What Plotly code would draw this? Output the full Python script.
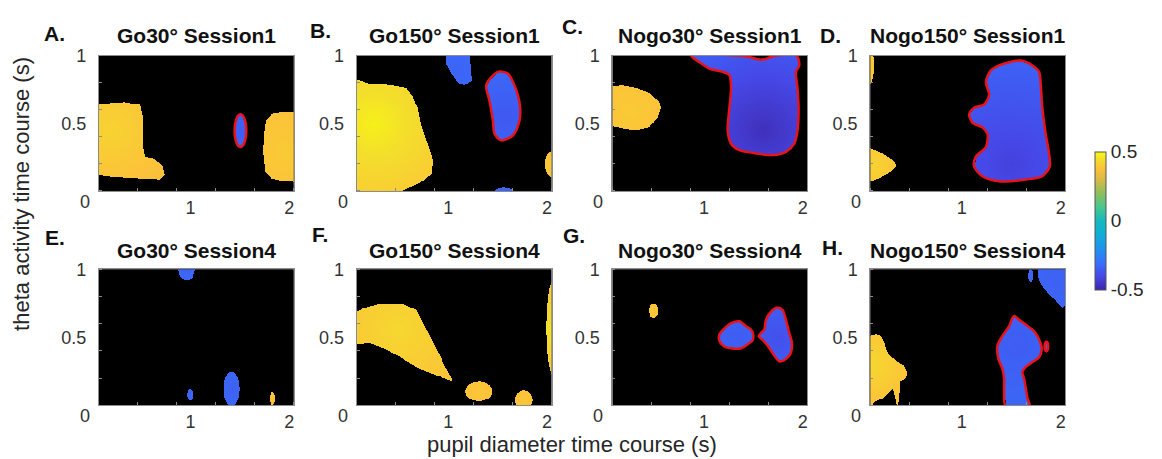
import numpy as np
import plotly.graph_objects as go

# ---------------- axes / labels ----------------
X_RANGE = [0.075, 2.045]
Y_RANGE = [0.0, 1.0]
X_TICKS = [1, 2]
Y_TICKS = [0.5, 1]
CBAR_TICKS = [-0.5, 0, 0.5]
PANEL_LETTERS = ["A.", "B.", "C.", "D.", "E.", "F.", "G.", "H."]
PANEL_TITLES = ["Go30° Session1", "Go150° Session1", "Nogo30° Session1", "Nogo150° Session1",
                "Go30° Session4", "Go150° Session4", "Nogo30° Session4", "Nogo150° Session4"]
X_LABEL = "pupil diameter time course (s)"
Y_LABEL = "theta activity time course (s)"

# ---------------- blob data (x: s, y: s) ----------------
# Panel A
A_YEL1_X = [0.05, 0.186, 0.338, 0.489, 0.519, 0.519, 0.540, 0.641, 0.722, 0.742, 0.691, 0.489, 0.186, 0.05]
A_YEL1_Y = [0.638, 0.652, 0.659, 0.638, 0.543, 0.326, 0.254, 0.239, 0.181, 0.123, 0.087, 0.094, 0.109, 0.123]
A_BLUE1_ELL = [1.506, 0.447, 0.059, 0.121]
A_YEL2_X = [1.822, 1.762, 1.742, 1.731, 1.752, 1.822, 1.954, 2.07, 2.07, 1.954]
A_YEL2_Y = [0.572, 0.529, 0.435, 0.290, 0.145, 0.094, 0.072, 0.065, 0.580, 0.587]
# Panel B
B_YEL1_X = [0.05, 0.206, 0.408, 0.580, 0.641, 0.691, 0.732, 0.792, 0.843, 0.833, 0.711, 0.580, 0.479, 0.05]
B_YEL1_Y = [0.833, 0.797, 0.783, 0.761, 0.703, 0.616, 0.471, 0.348, 0.232, 0.130, 0.058, 0.014, -0.02, -0.02]
B_BLUE1_X = [0.981, 1.216, 1.226, 1.237, 1.166, 1.115, 1.035, 0.984]
B_BLUE1_Y = [1.02, 1.02, 0.906, 0.819, 0.783, 0.790, 0.870, 0.942]
B_BLUE2_X = [1.502, 1.603, 1.654, 1.704, 1.728, 1.721, 1.654, 1.536, 1.469, 1.452, 1.418, 1.385]
B_BLUE2_Y = [0.882, 0.870, 0.809, 0.712, 0.616, 0.520, 0.411, 0.375, 0.422, 0.522, 0.667, 0.785]
B_BLUE3_ELL = [1.56, -0.005, 0.09, 0.03]
B_YEL2_ELL = [2.05, 0.2, 0.075, 0.095]
# Panel C
C_YEL1_X = [0.05, 0.179, 0.314, 0.449, 0.550, 0.567, 0.533, 0.449, 0.314, 0.196, 0.05]
C_YEL1_Y = [0.773, 0.780, 0.761, 0.725, 0.664, 0.616, 0.543, 0.471, 0.447, 0.459, 0.483]
C_BLUE1_X = [0.870, 0.954, 1.055, 1.189, 1.257, 1.274, 1.257, 1.240, 1.274, 1.358, 1.492, 1.694, 1.829,
             1.913, 1.946, 1.957, 1.946, 1.930, 1.964, 1.936, 1.694, 1.627, 1.560, 1.492, 1.425]
C_BLUE1_Y = [1.002, 0.954, 0.906, 0.882, 0.857, 0.761, 0.616, 0.447, 0.350, 0.302, 0.283, 0.266, 0.290,
             0.350, 0.447, 0.616, 0.761, 0.882, 0.930, 1.002, 0.998, 0.978, 0.973, 0.986, 0.998]
# Panel D
D_YEL1_ELL = [0.05, 0.93, 0.065, 0.15]
D_YEL2_X = [0.05, 0.082, 0.199, 0.300, 0.335, 0.284, 0.166, 0.082, 0.05]
D_YEL2_Y = [0.32, 0.314, 0.278, 0.230, 0.186, 0.145, 0.097, 0.072, 0.07]
D_BLUE1_X = [1.294, 1.378, 1.479, 1.597, 1.714, 1.782, 1.799, 1.815, 1.849, 1.883, 1.890, 1.815, 1.648,
             1.378, 1.209, 1.125, 1.143, 1.244, 1.260, 1.209, 1.108, 1.075, 1.125, 1.226, 1.277, 1.244]
D_BLUE1_Y = [0.893, 0.930, 0.954, 0.966, 0.930, 0.882, 0.785, 0.616, 0.422, 0.278, 0.181, 0.109, 0.085,
             0.072, 0.109, 0.181, 0.254, 0.326, 0.422, 0.471, 0.507, 0.567, 0.616, 0.640, 0.712, 0.809]
# Panel E
E_BLUE1_ELL = [0.961, 1.0, 0.085, 0.08]
E_BLUE2_ELL = [0.994, 0.077, 0.03, 0.042]
E_BLUE3_ELL = [1.415, 0.12, 0.084, 0.13]
E_YEL1_ELL = [1.829, 0.05, 0.03, 0.05]
# Panel F
F_YEL1_X = [0.05, 0.139, 0.307, 0.543, 0.678, 0.779, 0.880, 0.964, 1.031, 1.048, 0.997, 0.880, 0.711,
            0.543, 0.375, 0.206, 0.105, 0.05]
F_YEL1_Y = [0.676, 0.712, 0.748, 0.748, 0.700, 0.556, 0.412, 0.293, 0.209, 0.173, 0.185, 0.221, 0.268,
            0.340, 0.412, 0.460, 0.448, 0.460]
F_YEL2_ELL = [1.310, 0.101, 0.138, 0.072]
F_YEL3_ELL = [1.762, 0.04, 0.092, 0.07]
F_YEL4_ELL = [2.06, 0.568, 0.07, 0.35]
# Panel G
G_YEL1_ELL = [0.492, 0.696, 0.05, 0.054]
G_BLUE1_X = [1.156, 1.223, 1.274, 1.358, 1.425, 1.476, 1.499, 1.492, 1.442, 1.375, 1.290, 1.206, 1.156]
G_BLUE1_Y = [0.520, 0.576, 0.604, 0.617, 0.581, 0.556, 0.513, 0.477, 0.448, 0.419, 0.417, 0.432, 0.473]
G_BLUE2_X = [1.627, 1.694, 1.744, 1.795, 1.829, 1.862, 1.890, 1.880, 1.829, 1.762, 1.711, 1.644, 1.593,
             1.553, 1.577, 1.610]
G_BLUE2_Y = [0.628, 0.700, 0.719, 0.700, 0.628, 0.532, 0.460, 0.388, 0.340, 0.322, 0.365, 0.437, 0.480,
             0.509, 0.532, 0.556]
# Panel H
H_YEL1_X = [0.05, 0.082, 0.133, 0.183, 0.216, 0.234, 0.267, 0.351, 0.418, 0.452, 0.436, 0.385, 0.368,
            0.361, 0.341, 0.317, 0.300, 0.267, 0.199, 0.133, 0.082, 0.05]
H_YEL1_Y = [0.509, 0.509, 0.520, 0.509, 0.460, 0.412, 0.365, 0.317, 0.293, 0.245, 0.196, 0.173, 0.124,
            0.029, -0.01, 0.077, 0.124, 0.101, 0.053, 0.029, -0.01, -0.01]
H_BLUE1_X = [1.765, 1.775, 1.815, 1.883, 1.967, 2.017, 2.06, 2.06]
H_BLUE1_Y = [1.02, 0.928, 0.868, 0.808, 0.760, 0.719, 0.748, 1.02]
H_BLUE2_ELL = [1.698, 0.952, 0.025, 0.045]
H_BLUE3_X = [1.529, 1.580, 1.648, 1.731, 1.782, 1.809, 1.782, 1.714, 1.648, 1.613, 1.630, 1.648, 1.664,
             1.688, 1.446, 1.428, 1.428, 1.411, 1.371, 1.361, 1.411, 1.479, 1.512]
H_BLUE3_Y = [0.657, 0.628, 0.592, 0.545, 0.484, 0.412, 0.353, 0.317, 0.281, 0.245, 0.196, 0.124, 0.053,
             -0.01, -0.01, 0.101, 0.196, 0.268, 0.340, 0.437, 0.509, 0.581, 0.640]
H_RED1_ELL = [1.856, 0.432, 0.018, 0.035]

# blob records: shape, value at peak, value at edge, peak location, fall-off radius, significant (red outline)
PANEL_BLOBS = [
    [dict(poly=(A_YEL1_X, A_YEL1_Y), vpk=0.42, ved=0.36, pk=(0.2, 0.45), r=0.8, sig=False),
     dict(ell=A_BLUE1_ELL, vpk=-0.35, ved=-0.33, pk=(1.506, 0.447), r=0.2, sig=True),
     dict(poly=(A_YEL2_X, A_YEL2_Y), vpk=0.40, ved=0.37, pk=(1.95, 0.3), r=0.6, sig=False)],
    [dict(poly=(B_YEL1_X, B_YEL1_Y), vpk=0.48, ved=0.38, pk=(0.25, 0.5), r=1.0, sig=False),
     dict(poly=(B_BLUE1_X, B_BLUE1_Y), vpk=-0.33, ved=-0.32, pk=(1.1, 0.9), r=0.3, sig=False),
     dict(poly=(B_BLUE2_X, B_BLUE2_Y), vpk=-0.36, ved=-0.32, pk=(1.58, 0.55), r=0.5, sig=True),
     dict(ell=B_BLUE3_ELL, vpk=-0.33, ved=-0.32, pk=(1.56, 0.0), r=0.2, sig=False),
     dict(ell=B_YEL2_ELL, vpk=0.40, ved=0.37, pk=(2.05, 0.2), r=0.2, sig=False)],
    [dict(poly=(C_YEL1_X, C_YEL1_Y), vpk=0.40, ved=0.37, pk=(0.25, 0.6), r=0.5, sig=False),
     dict(poly=(C_BLUE1_X, C_BLUE1_Y), vpk=-0.47, ved=-0.33, pk=(1.6, 0.45), r=1.1, sig=True)],
    [dict(ell=D_YEL1_ELL, vpk=0.40, ved=0.38, pk=(0.05, 0.93), r=0.3, sig=False),
     dict(poly=(D_YEL2_X, D_YEL2_Y), vpk=0.42, ved=0.38, pk=(0.1, 0.2), r=0.3, sig=False),
     dict(poly=(D_BLUE1_X, D_BLUE1_Y), vpk=-0.42, ved=-0.34, pk=(1.5, 0.2), r=1.0, sig=True)],
    [dict(ell=E_BLUE1_ELL, vpk=-0.33, ved=-0.32, pk=(0.961, 1.0), r=0.2, sig=False),
     dict(ell=E_BLUE2_ELL, vpk=-0.33, ved=-0.32, pk=(0.994, 0.077), r=0.2, sig=False),
     dict(ell=E_BLUE3_ELL, vpk=-0.34, ved=-0.32, pk=(1.415, 0.12), r=0.2, sig=False),
     dict(ell=E_YEL1_ELL, vpk=0.38, ved=0.37, pk=(1.829, 0.05), r=0.2, sig=False)],
    [dict(poly=(F_YEL1_X, F_YEL1_Y), vpk=0.43, ved=0.37, pk=(0.5, 0.55), r=0.9, sig=False),
     dict(ell=F_YEL2_ELL, vpk=0.39, ved=0.37, pk=(1.31, 0.1), r=0.2, sig=False),
     dict(ell=F_YEL3_ELL, vpk=0.39, ved=0.37, pk=(1.76, 0.04), r=0.2, sig=False),
     dict(ell=F_YEL4_ELL, vpk=0.46, ved=0.40, pk=(2.05, 0.55), r=0.4, sig=False)],
    [dict(ell=G_YEL1_ELL, vpk=0.39, ved=0.38, pk=(0.492, 0.696), r=0.2, sig=False),
     dict(poly=(G_BLUE1_X, G_BLUE1_Y), vpk=-0.35, ved=-0.33, pk=(1.33, 0.5), r=0.3, sig=True),
     dict(poly=(G_BLUE2_X, G_BLUE2_Y), vpk=-0.38, ved=-0.34, pk=(1.75, 0.5), r=0.4, sig=True)],
    [dict(poly=(H_YEL1_X, H_YEL1_Y), vpk=0.43, ved=0.37, pk=(0.08, 0.3), r=0.5, sig=False),
     dict(poly=(H_BLUE1_X, H_BLUE1_Y), vpk=-0.34, ved=-0.32, pk=(1.95, 0.9), r=0.4, sig=False),
     dict(ell=H_BLUE2_ELL, vpk=-0.33, ved=-0.32, pk=(1.698, 0.952), r=0.2, sig=False),
     dict(poly=(H_BLUE3_X, H_BLUE3_Y), vpk=-0.35, ved=-0.33, pk=(1.55, 0.45), r=0.5, sig=True),
     dict(ell=H_RED1_ELL, vpk=-0.33, ved=-0.33, pk=(1.856, 0.432), r=0.2, sig=True)],
]

# parula-like colormap
PARULA = [
    [0.00, "#3e26a8"], [0.10, "#4648e8"], [0.20, "#3871fc"], [0.30, "#2092ed"],
    [0.40, "#0eaed7"], [0.50, "#14b9be"], [0.60, "#48c68e"], [0.70, "#8cbf5c"],
    [0.80, "#d7ba44"], [0.88, "#fcc23a"], [0.95, "#f3e02a"], [1.00, "#f9fb0e"],
]

# ---------------- layout geometry (pixels) ----------------
W, H = 1162, 459
COL_LEFT = [99, 357, 613, 871]
PANEL_W = 195
ROW_TOP = [47, 265]
ROW_BOT = [185, 404]
LETTER_POS = [(55, 24), (321, 21), (573, 17), (831, 26), (55, 233), (320, 230), (574, 231), (833, 243)]
TITLE_Y = [26, 246]
FONT = "Liberation Sans, Arial, sans-serif"

NX, NY = 200, 142
xe = np.linspace(X_RANGE[0], X_RANGE[1], NX + 1)
ye = np.linspace(Y_RANGE[0], Y_RANGE[1], NY + 1)
xc = 0.5 * (xe[:-1] + xe[1:])
yc = 0.5 * (ye[:-1] + ye[1:])
GX, GY = np.meshgrid(xc, yc)


def in_poly(px, py, xs, ys):
    xs = np.asarray(xs, float)
    ys = np.asarray(ys, float)
    res = np.zeros(px.shape, bool)
    j = len(xs) - 1
    for i in range(len(xs)):
        xi, yi, xj, yj = xs[i], ys[i], xs[j], ys[j]
        den = (yj - yi) if (yj - yi) != 0 else 1e-12
        cond = ((yi > py) != (yj > py)) & (px < (xj - xi) * (py - yi) / den + xi)
        res ^= cond
        j = i
    return res


def ell_outline(e):
    t = np.linspace(0, 2 * np.pi, 72)
    return e[0] + e[2] * np.cos(t), e[1] + e[3] * np.sin(t)


fig = go.Figure()
annotations = []

for k in range(8):
    row, col = divmod(k, 4)
    xa = "x" if k == 0 else f"x{k+1}"
    ya = "y" if k == 0 else f"y{k+1}"
    Z = np.full(GX.shape, np.nan)
    outlines = []
    for b in PANEL_BLOBS[k]:
        if "poly" in b:
            xs, ys = b["poly"]
            m = in_poly(GX, GY, xs, ys)
            ox, oy = list(xs) + [xs[0]], list(ys) + [ys[0]]
        else:
            e = b["ell"]
            m = ((GX - e[0]) / e[2]) ** 2 + ((GY - e[1]) / e[3]) ** 2 <= 1
            ox, oy = ell_outline(e)
        d = np.sqrt(((GX - b["pk"][0]) * 0.99) ** 2 + ((GY - b["pk"][1]) * 1.38) ** 2)
        val = b["vpk"] + (b["ved"] - b["vpk"]) * np.clip(d / b["r"], 0, 1)
        Z = np.where(m, val, Z)
        if b["sig"]:
            outlines.append((ox, oy))
    zl = [[None if np.isnan(v) else round(float(v), 4) for v in rowv] for rowv in Z]
    fig.add_trace(go.Heatmap(
        x=xc, y=yc, z=zl, colorscale=PARULA, zmin=-0.5, zmax=0.5,
        xaxis=xa, yaxis=ya, hoverinfo="skip", showscale=(k == 0),
        colorbar=dict(
            x=1095.7 / W, xanchor="left", xpad=0, y=1 - 215.5 / H, yanchor="middle", ypad=0,
            len=141 / H, lenmode="fraction", thickness=11, outlinecolor="#555555", outlinewidth=1,
            tickvals=CBAR_TICKS, ticktext=["-0.5", "0", "0.5"], ticks="",
            tickfont=dict(size=19, color="#262626", family=FONT),
        ),
    ))
    for ox, oy in outlines:
        fig.add_trace(go.Scatter(
            x=list(ox), y=list(oy), mode="lines", xaxis=xa, yaxis=ya,
            line=dict(color="#e8131b", width=2.5, shape="spline", smoothing=0.8),
            hoverinfo="skip", showlegend=False,
        ))

    left = COL_LEFT[col]
    xdom = [left / W, (left + PANEL_W) / W]
    ydom = [1 - ROW_BOT[row] / H, 1 - ROW_TOP[row] / H]
    axcommon = dict(showline=True, linecolor="#8c8c8c", linewidth=1, mirror=True,
                    showgrid=False, zeroline=False, fixedrange=True,
                    tickfont=dict(size=18, color="#333333", family=FONT))
    xkey = "xaxis" if k == 0 else f"xaxis{k+1}"
    ykey = "yaxis" if k == 0 else f"yaxis{k+1}"
    fig.update_layout({
        xkey: dict(domain=xdom, anchor=ya, range=X_RANGE, tickmode="array", tickvals=X_TICKS,
                   ticktext=[str(v) for v in X_TICKS], ticks="", ticklabelstandoff=0,
                   minor=dict(ticks="inside", ticklen=3, tickcolor="#8c8c8c", tick0=X_RANGE[0],
                              dtick=(X_RANGE[1] - X_RANGE[0]) / 5, showgrid=False),
                   **axcommon),
        ykey: dict(domain=ydom, anchor=xa, range=Y_RANGE, tickmode="array", tickvals=Y_TICKS,
                   ticktext=["0.5", "1"], ticks="", ticklabelstandoff=8,
                   minor=dict(ticks="inside", ticklen=3, tickcolor="#8c8c8c", tick0=0, dtick=0.2,
                              showgrid=False),
                   **axcommon),
    })
    # the "0" label sitting at the lower-left corner of each panel
    annotations.append(dict(text="0", x=(left - 14) / W, y=1 - (ROW_BOT[row] + 11) / H,
                            xref="paper", yref="paper", showarrow=False, xanchor="center", yanchor="middle",
                            font=dict(size=18, color="#333333", family=FONT)))
    annotations.append(dict(text=f"<b>{PANEL_TITLES[k]}</b>", x=(left + PANEL_W / 2) / W,
                            y=1 - TITLE_Y[row] / H, xref="paper", yref="paper", showarrow=False,
                            xanchor="center", yanchor="middle",
                            font=dict(size=21, color="#111111", family=FONT)))
    lx, ly = LETTER_POS[k]
    annotations.append(dict(text=f"<b>{PANEL_LETTERS[k]}</b>", x=lx / W, y=1 - ly / H,
                            xref="paper", yref="paper", showarrow=False, xanchor="center", yanchor="middle",
                            font=dict(size=21, color="#111111", family=FONT)))

annotations.append(dict(text=X_LABEL, x=572 / W, y=0.0, xref="paper", yref="paper",
                        showarrow=False, xanchor="center", yanchor="bottom",
                        font=dict(size=22, color="#262626", family=FONT)))
annotations.append(dict(text=Y_LABEL, x=22 / W, y=1 - 188 / H, xref="paper", yref="paper",
                        showarrow=False, xanchor="center", yanchor="middle", textangle=-90,
                        font=dict(size=22, color="#262626", family=FONT)))

fig.update_layout(
    width=W, height=H, margin=dict(l=0, r=0, t=0, b=0),
    paper_bgcolor="white", plot_bgcolor="black", showlegend=False,
    annotations=annotations,
    font=dict(family=FONT, color="#262626"),
)

fig.write_html("out.html", config={"displayModeBar": False},
               post_script="document.body.style.margin='0';")
